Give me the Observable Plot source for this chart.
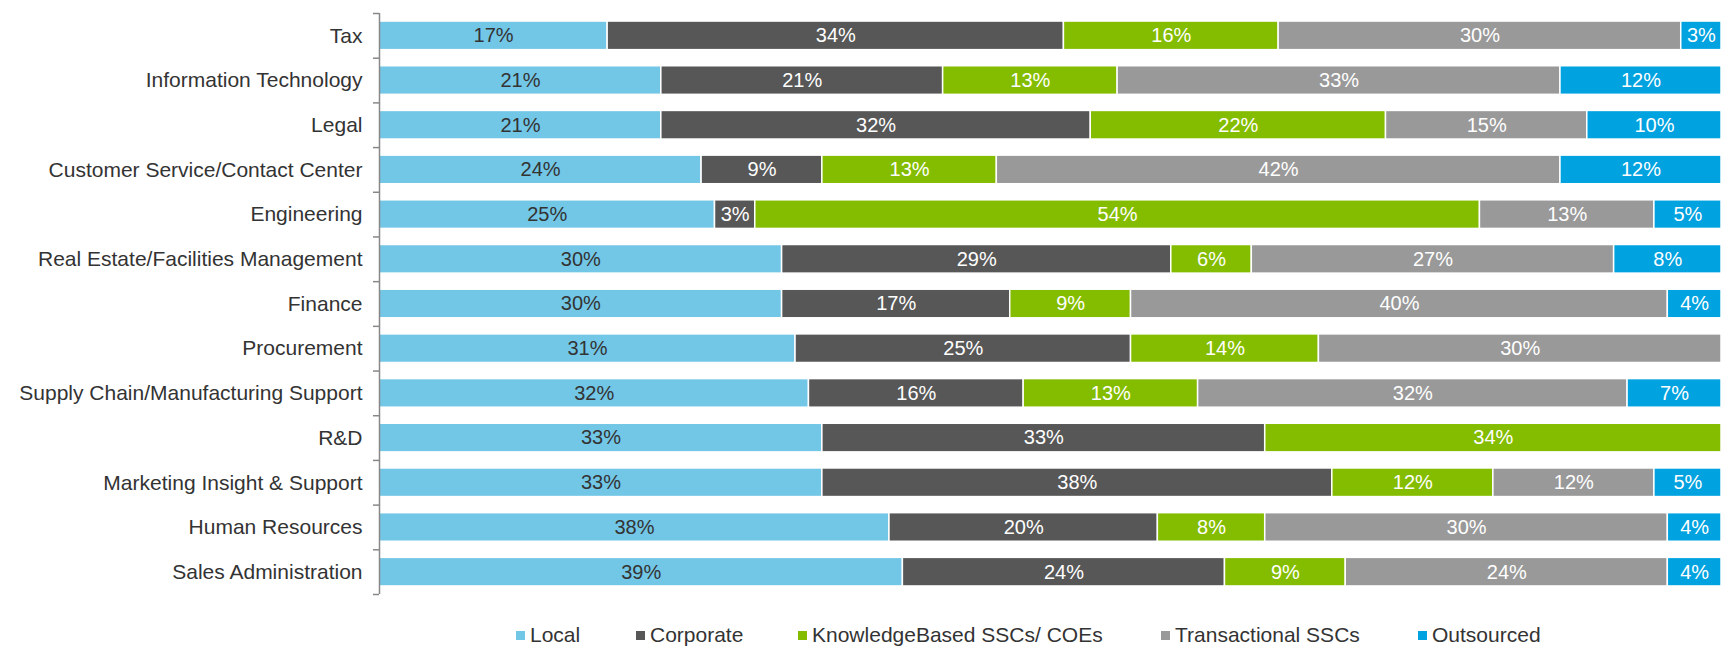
<!DOCTYPE html>
<html>
<head>
<meta charset="utf-8">
<script src="https://cdn.jsdelivr.net/npm/d3@7"></script>
<script src="https://cdn.jsdelivr.net/npm/@observablehq/plot@0.6"></script>
<style>
  html, body { margin: 0; padding: 0; background: #fff; }
  body { width: 1721px; height: 647px; overflow: hidden; font-family: "Liberation Sans", Arial, sans-serif; }
  #chart svg { display: block; }
  #legend { position: relative; height: 30px; margin-top: 12px; font-size: 21px; color: #333; }
  #legend .item { position: absolute; top: 0; height: 30px; display: flex; align-items: center; gap: 5px; white-space: nowrap; }
  #legend .sw { width: 9px; height: 9px; display: inline-block; }
</style>
</head>
<body>
<div id="chart"></div>
<div id="legend"></div>
<script>
const categories = ["Tax", "Information Technology", "Legal", "Customer Service/Contact Center", "Engineering",
  "Real Estate/Facilities Management", "Finance", "Procurement", "Supply Chain/Manufacturing Support",
  "R&D", "Marketing Insight & Support", "Human Resources", "Sales Administration"];
const series = ["Local", "Corporate", "KnowledgeBased SSCs/ COEs", "Transactional SSCs", "Outsourced"];
const colors = ["#72c6e6", "#575757", "#84bd00", "#999999", "#00a2df"];
const local         = [17, 21, 21, 24, 25, 30, 30, 31, 32, 33, 33, 38, 39];
const corporate     = [34, 21, 32,  9,  3, 29, 17, 25, 16, 33, 38, 20, 24];
const knowledge     = [16, 13, 22, 13, 54,  6,  9, 14, 13, 34, 12,  8,  9];
const transactional = [30, 33, 15, 42, 13, 27, 40, 30, 32,  0, 12, 30, 24];
const outsourced    = [ 3, 12, 10, 12,  5,  8,  4,  0,  7,  0,  5,  4,  4];
const seriesValues = [local, corporate, knowledge, transactional, outsourced];

const data = [];
categories.forEach((c, i) => {
  series.forEach((s, j) => {
    const v = seriesValues[j][i];
    if (v > 0) data.push({category: c, series: s, value: v});
  });
});

const W = 1721, H = 608, mTop = 13, mBottom = 14, mLeft = 379;
const step = (H - mTop - mBottom) / categories.length;
const inset = (step - 28.6) / 2;

const plot = Plot.plot({
  width: W,
  height: H,
  marginTop: mTop,
  marginBottom: mBottom,
  marginLeft: mLeft,
  marginRight: 0,
  style: {fontFamily: "'Liberation Sans', Arial, sans-serif", background: "#fff"},
  x: {domain: [0, 100], axis: null},
  y: {domain: categories, padding: 0, round: false, label: null, axis: null},
  color: {domain: series, range: colors},
  marks: [
    Plot.barX(data, Plot.stackX({x: "value", y: "category", fill: "series", order: series,
      stroke: "#fff", strokeWidth: 1.5, insetTop: inset, insetBottom: inset})),
    Plot.text(data, Plot.stackX({x: "value", y: "category", z: "series", order: series,
      text: d => d.value + "%",
      fill: d => d.series === "Local" ? "#333" : "#fff",
      fontSize: 20})),
    Plot.ruleX([0], {stroke: "#888", strokeWidth: 1.5}),
    Plot.ruleY(categories, {y: d => d, x1: -0.45, x2: 0, dy: -step / 2, stroke: "#888", strokeWidth: 1.5, clip: false}),
    Plot.ruleY(categories.slice(-1), {y: d => d, x1: -0.45, x2: 0, dy: step / 2, stroke: "#888", strokeWidth: 1.5, clip: false}),
    Plot.axisY({tickSize: 0, tickPadding: 17, fontSize: 21, color: "#333", label: null})
  ]
});
plot.querySelectorAll("[aria-label='y-axis tick label'] text").forEach(t => t.setAttribute("fill", "#333"));
document.getElementById("chart").appendChild(plot);

const legendLeft = [516, 636, 798, 1161, 1418];
const legend = document.getElementById("legend");
series.forEach((s, j) => {
  const item = document.createElement("div");
  item.className = "item";
  item.style.left = legendLeft[j] + "px";
  item.innerHTML = `<span class="sw" style="background:${colors[j]}"></span><span>${s}</span>`;
  legend.appendChild(item);
});
</script>
</body>
</html>
